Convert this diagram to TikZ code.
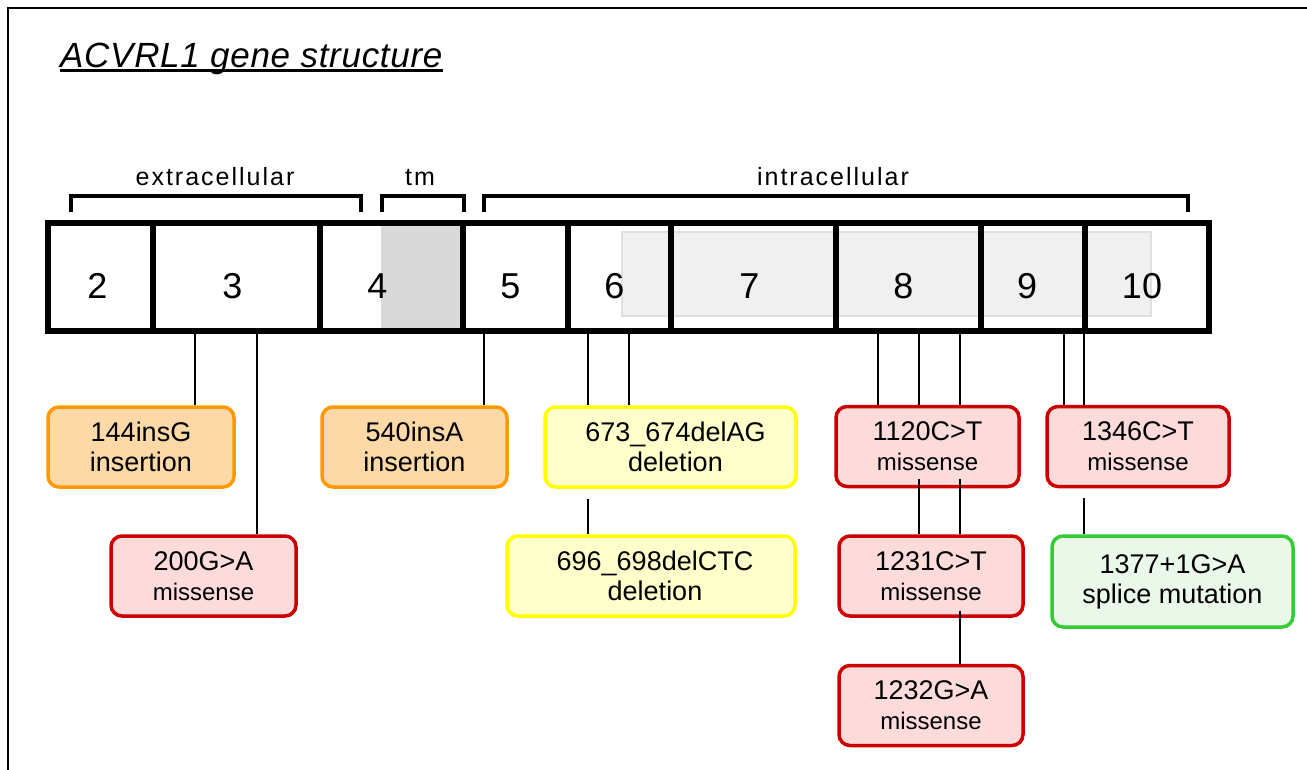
\documentclass[tikz,border=0pt]{standalone}
\usepackage{fontspec}
\setmainfont{Liberation Sans}
\newfontfamily\trackfont[LetterSpace=8]{Liberation Sans}
\newfontfamily\titlefont[LetterSpace=2]{Liberation Sans}
\usepackage{xcolor}
\usetikzlibrary{positioning, calc}
\definecolor{insfill}{HTML}{FDD9A8}
\definecolor{insdraw}{HTML}{FF9900}
\definecolor{delfill}{HTML}{FFFFCC}
\definecolor{deldraw}{HTML}{FFFF00}
\definecolor{misfill}{HTML}{FDDBDB}
\definecolor{misdraw}{HTML}{CC0000}
\definecolor{splfill}{HTML}{EAF8EA}
\definecolor{spldraw}{HTML}{33CC33}
\definecolor{tmgrey}{HTML}{D9D9D9}
\definecolor{kinfill}{HTML}{F0F0F0}
\definecolor{kindraw}{HTML}{E0E0E0}

\begin{document}
\begin{tikzpicture}[
    x=1pt, y=-1pt,
    exon/.style={draw, rectangle, line width=6pt, minimum height=108pt, inner sep=0pt},
    bracket/.style={line width=3.5pt},
    region/.style={anchor=base, inner sep=0pt, font=\trackfont\fontsize{25}{25}\selectfont},
    mutbox/.style={draw, rectangle, rounded corners=11pt, line width=3.5pt, minimum height=80pt, inner sep=0pt, align=center, font=\fontsize{27}{30}\selectfont},
    insbox/.style={mutbox, fill=insfill, draw=insdraw},
    delbox/.style={mutbox, fill=delfill, draw=deldraw},
    misbox/.style={mutbox, fill=misfill, draw=misdraw},
    splbox/.style={mutbox, fill=splfill, draw=spldraw},
    link/.style={line width=1.8pt}
  ]
  \useasboundingbox (0,0) rectangle (1307,769);
  \draw[line width=2.5pt] (8,800) -- (8,8) -- (1320,8);

  \node[anchor=base west, inner sep=0pt, font=\titlefont\fontsize{35}{35}\selectfont\itshape] (title) at (60,67) {ACVRL1 gene structure};
  \draw[line width=3.5pt] ([yshift=-3.5pt]title.base west) -- ([yshift=-3.5pt]title.base east);

  \node[region] (extra) at (215,185) {extracellular};
  \node[region] (tm) at (420,185) {tm};
  \node[region] (intra) at (833,185) {intracellular};
  \draw[bracket] (71,212) -- (71,196) -- (361,196) -- (361,212);
  \draw[bracket] (382,212) -- (382,196) -- (464,196) -- (464,212);
  \draw[bracket] (484,212) -- (484,196) -- (1188,196) -- (1188,212);

  \fill[tmgrey] (381,226) rectangle (463,328);
  \draw[kindraw, fill=kinfill, line width=1.5pt] (622,232) rectangle (1151,316);

  \foreach \n/\x/\w/\s in {2/100.5/105/-3, 3/236.5/167/-4, 4/391.5/143/-14, 5/515.5/105/-5, 6/619.5/103/-5, 7/753.5/165/-4, 8/908.5/145/-5, 9/1033/104/-6, 10/1147/124/-5}
    \node[exon, minimum width=\w pt, label={[xshift=\s pt, yshift=-9pt, font=\fontsize{36}{36}\selectfont]center:\n}] (e\n) at (\x,277) {};

  \node[insbox, minimum width=186pt] (i144) at (141,447) {144insG\\insertion};
  \node[misbox, minimum width=185pt] (m200) at (203.5,576) {200G>A\\{\fontsize{24}{28}\selectfont missense}};
  \node[insbox, minimum width=185pt] (i540) at (414.5,447) {540insA\\insertion};
  \node[delbox, minimum width=251pt] (d673) at (670.5,447) {\hspace*{10pt}673\_674delAG\\\hspace*{10pt}deletion};
  \node[delbox, minimum width=288pt] (d696) at (651,576) {\hspace*{8pt}696\_698delCTC\\\hspace*{8pt}deletion};
  \node[misbox, minimum width=183pt] (m1120) at (927.5,446.5) {1120C>T\\{\fontsize{24}{28}\selectfont missense}};
  \node[misbox, minimum width=184pt, below=46pt of m1120, xshift=3.5pt] (m1231) {1231C>T\\{\fontsize{24}{28}\selectfont missense}};
  \node[misbox, minimum width=184pt, below=46pt of m1231] (m1232) {1232G>A\\{\fontsize{24}{28}\selectfont missense}};
  \node[misbox, minimum width=182pt] (m1346) at (1138,446.5) {1346C>T\\{\fontsize{24}{28}\selectfont missense}};
  \node[splbox, minimum width=241pt, minimum height=91pt] (s1377) at (1172.5,581.5) {1377+1G>A\\splice mutation};

  \coordinate (c144) at (195,331);
  \coordinate (c200) at (257,331);
  \coordinate (c540) at (484,331);
  \coordinate (c696) at (588,331);
  \coordinate (c673) at (629,331);
  \coordinate (c1120) at (878,331);
  \coordinate (c1231) at (919,331);
  \coordinate (c1232) at (960,331);
  \coordinate (c1346) at (1064,331);
  \coordinate (c1377) at (1084,331);

  \draw[link] (c144) -- (c144 |- i144.north);
  \draw[link] (c200) -- (c200 |- m200.north);
  \draw[link] (c540) -- (c540 |- i540.north);
  \draw[link] (c673) -- (c673 |- d673.north);
  \draw[link] (c696) -- (c696 |- d673.north);
  \draw[link] ([yshift=-10pt]c696 |- d673.south) -- (c696 |- d696.north);
  \draw[link] (c1120) -- (c1120 |- m1120.north);
  \draw[link] (c1231) -- (c1231 |- m1120.north);
  \draw[link] (c1232) -- (c1232 |- m1120.north);
  \draw[link] ([yshift=9pt]c1231 |- m1120.south) -- (c1231 |- m1231.north);
  \draw[link] ([yshift=9pt]c1232 |- m1120.south) -- (c1232 |- m1231.north);
  \draw[link] ([yshift=7pt]c1232 |- m1231.south) -- (c1232 |- m1232.north);
  \draw[link] (c1346) -- (c1346 |- m1346.north);
  \draw[link] (c1377) -- (c1377 |- m1346.north);
  \draw[link] ([yshift=-10pt]c1377 |- m1346.south) -- (c1377 |- s1377.north);
\end{tikzpicture}
\end{document}
